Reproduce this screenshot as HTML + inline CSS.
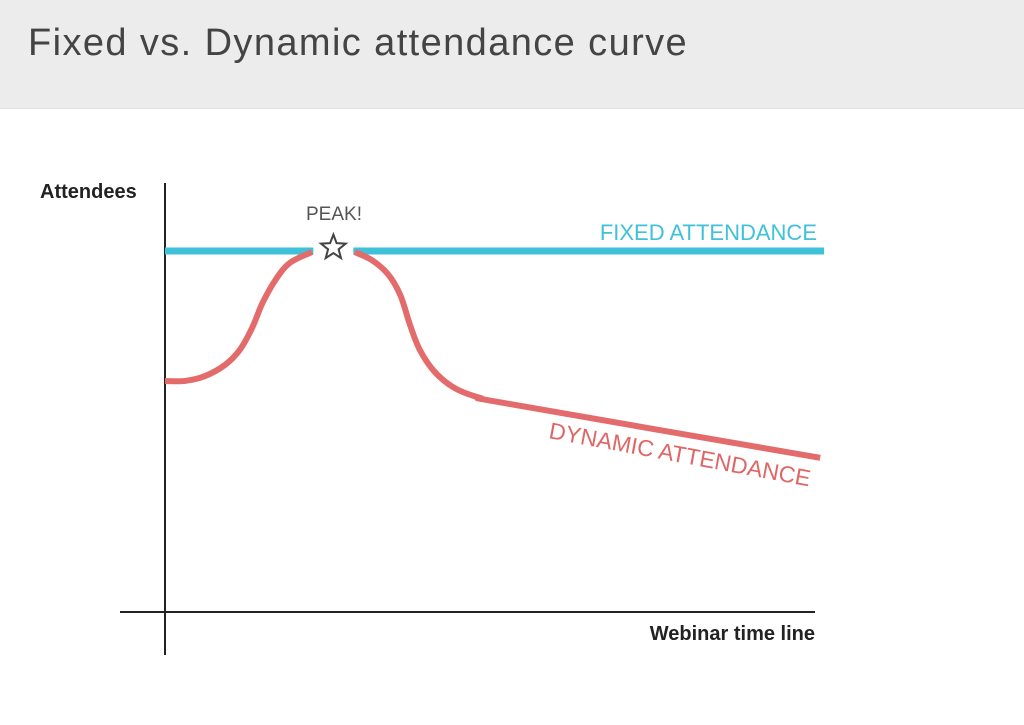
<!DOCTYPE html>
<html><head><meta charset="utf-8"><style>
body{margin:0;width:1024px;height:725px;background:#fff;overflow:hidden;font-family:"Liberation Sans",sans-serif}
#hdr{position:absolute;left:0;top:0;width:1024px;height:108px;background:#ececec;border-bottom:1px solid #e0e0e0}
#ttl{position:absolute;left:28px;top:22px;font-size:38px;color:#444;letter-spacing:1.4px}
svg{position:absolute;left:0;top:0}
</style></head><body>
<div id="hdr"><div id="ttl">Fixed vs. Dynamic attendance curve</div></div>
<svg id="c" width="1024" height="725">
<line x1="165" y1="183" x2="165" y2="655" stroke="#222" stroke-width="2"/>
<line x1="120" y1="612" x2="815" y2="612" stroke="#222" stroke-width="2"/>
<text x="40" y="198" font-size="20" font-weight="bold" fill="#222">Attendees</text>
<text x="815" y="640" font-size="20" font-weight="bold" fill="#222" text-anchor="end">Webinar time line</text>
<text x="334" y="220" font-size="19" fill="#555" text-anchor="middle">PEAK!</text>
<text x="817" y="240" font-size="22" fill="#3fc1d9" text-anchor="end">FIXED ATTENDANCE</text>
<text x="0" y="0" font-size="23" fill="#e06666" transform="translate(548,438) rotate(10.5)">DYNAMIC ATTENDANCE</text>
</svg>
<script>
const fixedTimes=[0,101.4];
const fixedValues=[100,100];
const dynSeg1Times=[0,3.1,6.2,9.2,11.5,13.4,15,17,19.2,22.6];
const dynSeg1Values=[64,64,65.4,68.4,72.6,78.7,85.6,92,96.7,99.7];
const dynSeg2Times=[29.2,31.8,34.3,36.2,37.7,39.2,41.5,44.6,48.5,53.1,100.8];
const dynSeg2Values=[99.7,97.5,93.6,87.8,79.5,72.6,66.5,62,59.3,57.6,42.7];
const peakTime=25.9, peakValue=101.5;
const xs=t=>165+t*6.5, ys=v=>612-v*3.61;
const svg=document.getElementById('c'),NS='http://www.w3.org/2000/svg';
function smooth(ts,vs){const p=ts.map((t,i)=>[xs(t),ys(vs[i])]);let d='M'+p[0];
for(let i=0;i<p.length-1;i++){const a=p[i-1]||p[i],b=p[i],c=p[i+1],e=p[i+2]||c;
d+=` C${b[0]+(c[0]-a[0])/6},${b[1]+(c[1]-a[1])/6} ${c[0]-(e[0]-b[0])/6},${c[1]-(e[1]-b[1])/6} ${c[0]},${c[1]}`;}return d;}
const fl=document.createElementNS(NS,'line');
fl.setAttribute('x1',xs(fixedTimes[0]));fl.setAttribute('x2',xs(fixedTimes[1]));
fl.setAttribute('y1',ys(fixedValues[0]));fl.setAttribute('y2',ys(fixedValues[1]));
fl.setAttribute('stroke','#3fc1d9');fl.setAttribute('stroke-width','7');


svg.appendChild(fl);
const gap=document.createElementNS(NS,'rect');
gap.setAttribute('x',xs(peakTime)-20);gap.setAttribute('y',ys(100)-6);gap.setAttribute('width',40);gap.setAttribute('height',12);gap.setAttribute('fill','#fff');


svg.appendChild(gap);
[[dynSeg1Times,dynSeg1Values,'dynamic-attendance-rise'],[dynSeg2Times,dynSeg2Values,'dynamic-attendance-fall']].forEach(s=>{
const p=document.createElementNS(NS,'path');p.setAttribute('d',smooth(s[0],s[1]));
p.setAttribute('fill','none');p.setAttribute('stroke','#e46b6b');p.setAttribute('stroke-width','6');p.setAttribute('stroke-linejoin','round');


svg.appendChild(p);});
const cx=xs(peakTime),cy=ys(peakValue);let pts=[];
for(let i=0;i<10;i++){const r=i%2?5.5:13,a=-Math.PI/2+i*Math.PI/5;pts.push((cx+r*Math.cos(a)).toFixed(1)+','+(cy+r*Math.sin(a)+2).toFixed(1));}
const st=document.createElementNS(NS,'polygon');st.setAttribute('points',pts.join(' '));
st.setAttribute('fill','#fff');st.setAttribute('stroke','#444');st.setAttribute('stroke-width','2');


svg.appendChild(st);
</script>
</body></html>
